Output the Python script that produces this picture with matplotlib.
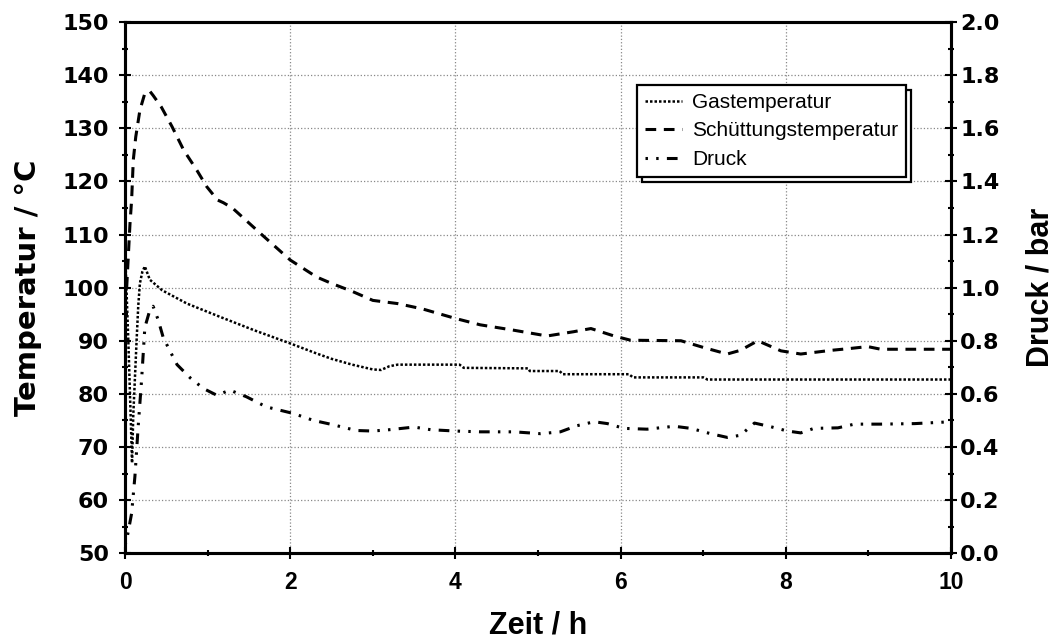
import numpy as np
import matplotlib
matplotlib.use("Agg")
import matplotlib.pyplot as plt
from matplotlib.ticker import MultipleLocator, FormatStrFormatter
from matplotlib.patches import Rectangle

plt.rcParams['font.family'] = ['Liberation Sans', 'DejaVu Sans']
plt.rcParams['font.weight'] = 'bold'

# Gastemperatur (°C)
t_gas = [0.0, 0.01, 0.04, 0.07, 0.085, 0.1, 0.14, 0.16, 0.18, 0.21, 0.24, 0.3, 0.45, 0.75,
         1.15, 1.56, 2.0, 2.32, 2.5, 2.75, 3.0, 3.1, 3.2, 3.3, 4.05, 4.1, 4.88, 4.9,
         5.26, 5.3, 6.1, 6.15, 7.0, 7.05, 10.0]
T_gas = [105.0, 103.0, 90.0, 75.0, 67.0, 76.0, 90.0, 96.5, 100.8, 103.0, 104.0, 101.5, 99.5, 97.0,
         94.5, 92.0, 89.5, 87.6, 86.6, 85.5, 84.6, 84.5, 85.2, 85.5, 85.5, 84.9, 84.8, 84.3,
         84.3, 83.7, 83.7, 83.1, 83.1, 82.7, 82.7]

# Schüttungstemperatur (°C)
t_bed = [0.02, 0.04, 0.06, 0.08, 0.1, 0.13, 0.18, 0.24, 0.3, 0.34, 0.44, 0.57, 0.71, 0.87,
         0.99, 1.12, 1.19, 1.3, 1.64, 2.0, 2.32, 2.5, 2.75, 3.0, 3.3, 3.6, 4.0, 4.3,
         4.7, 5.11, 5.43, 5.64, 5.92, 6.12, 6.73, 7.01, 7.29, 7.45, 7.66, 7.94, 8.18,
         8.55, 8.75, 8.99, 9.15, 10.0]
T_bed = [100.0, 106.0, 112.0, 116.5, 124.0, 128.4, 133.4, 136.6, 137.0, 136.2, 134.0, 130.3, 125.9, 122.1,
         119.0, 116.5, 116.0, 115.0, 110.2, 105.2, 102.0, 100.8, 99.3, 97.6, 97.0, 96.0, 94.2, 93.0,
         92.0, 90.9, 91.7, 92.3, 90.9, 90.1, 90.0, 88.7, 87.5, 88.2, 90.0, 88.1, 87.5,
         88.2, 88.5, 88.9, 88.4, 88.4]

# Druck (bar)
t_p = [0.0, 0.02, 0.08, 0.12, 0.16, 0.2, 0.24, 0.3, 0.34, 0.4, 0.46, 0.53, 0.63, 0.79,
       0.95, 1.11, 1.27, 1.47, 1.71, 2.04, 2.28, 2.5, 2.8, 3.0, 3.2, 3.5, 3.7, 4.0,
       4.3, 4.71, 5.03, 5.27, 5.47, 5.68, 5.84, 6.04, 6.32, 6.65, 6.85, 7.09, 7.29,
       7.45, 7.62, 7.82, 8.02, 8.18, 8.34, 8.63, 8.83, 9.15, 9.56, 10.0]
p = [0.03, 0.05, 0.15, 0.29, 0.48, 0.65, 0.85, 0.915, 0.93, 0.88, 0.815, 0.77, 0.71, 0.66,
     0.62, 0.595, 0.614, 0.589, 0.551, 0.526, 0.50, 0.485, 0.462, 0.46, 0.465, 0.475, 0.465, 0.46,
     0.457, 0.457, 0.45, 0.457, 0.48, 0.495, 0.488, 0.47, 0.467, 0.478, 0.47, 0.45, 0.436,
     0.444, 0.49, 0.476, 0.46, 0.453, 0.47, 0.472, 0.486, 0.486, 0.488, 0.495]

fig = plt.figure(figsize=(10.55, 6.41), dpi=100)
ax = fig.add_axes([0.1185, 0.137, 0.783, 0.8285])
ax2 = ax.twinx()

l1, = ax.plot(t_gas, T_gas, color='black', lw=1.8, linestyle=(0, (1, 0.8)), label='Gastemperatur')
l2, = ax.plot(t_bed, T_bed, color='black', lw=2.2, linestyle=(0, (3.5, 2.5)), label='Schüttungstemperatur')
l3, = ax2.plot(t_p, p, color='black', lw=2.2, linestyle=(6.2, (3.5, 2.7, 0.8, 2.7, 0.8, 2.7)), label='Druck')

ax.set_xlim(0, 10)
ax.set_ylim(50, 150)
ax2.set_ylim(0, 2.0)

ax.xaxis.set_major_locator(MultipleLocator(2))
ax.xaxis.set_minor_locator(MultipleLocator(1))
ax.yaxis.set_major_locator(MultipleLocator(10))
ax.yaxis.set_minor_locator(MultipleLocator(5))
ax2.yaxis.set_major_locator(MultipleLocator(0.2))
ax2.yaxis.set_minor_locator(MultipleLocator(0.1))
ax2.yaxis.set_major_formatter(FormatStrFormatter('%.1f'))

ax.grid(True, which='major', color='#888888', linestyle=':', linewidth=0.9)

for a in (ax, ax2):
    a.tick_params(which='major', direction='inout', length=9, width=1.5)
    a.tick_params(which='minor', direction='inout', length=5, width=1.5)
    for s in a.spines.values():
        s.set_linewidth(2.2)

ax.tick_params(axis='x', labelsize=16.5, pad=8, labelfontfamily='Liberation Sans')
ax.tick_params(axis='y', labelsize=16, pad=7, labelfontfamily='DejaVu Sans')
ax2.tick_params(axis='y', labelsize=16, pad=2, labelfontfamily='DejaVu Sans')

ax.set_xlabel('Zeit / h', fontsize=22, fontweight='bold')
ax.xaxis.set_label_coords(0.5, -0.107)
ax.set_ylabel('Temperatur / °C', fontsize=21, fontweight='bold', family='DejaVu Sans')
ax.yaxis.set_label_coords(-0.1, 0.5)
ax2.set_ylabel('Druck / bar', fontsize=22, fontweight='bold')
ax2.yaxis.set_label_coords(1.09, 0.5)

leg = ax2.legend(handles=[l1, l2, l3], loc='upper left', bbox_to_anchor=(0.6195, 0.882),
                 prop={'size': 15, 'weight': 'normal'}, handlelength=1.75, handletextpad=0.5,
                 labelspacing=0.45, fancybox=False, framealpha=1, edgecolor='black',
                 borderpad=0.4, borderaxespad=0)
leg.get_frame().set_linewidth(1.6)
leg.set_zorder(6)

# offset frame behind the legend (double border look)
fig.canvas.draw()
bb = leg.get_window_extent().transformed(ax2.transAxes.inverted())
dx = 5 / (ax2.bbox.width)
dy = 5 / (ax2.bbox.height)
ax2.add_artist(Rectangle((bb.x0 + dx, bb.y0 - dy), bb.width, bb.height, transform=ax2.transAxes,
                         facecolor='white', edgecolor='black', lw=1.6, zorder=5.5))

fig.savefig('out.png', dpi=100)
